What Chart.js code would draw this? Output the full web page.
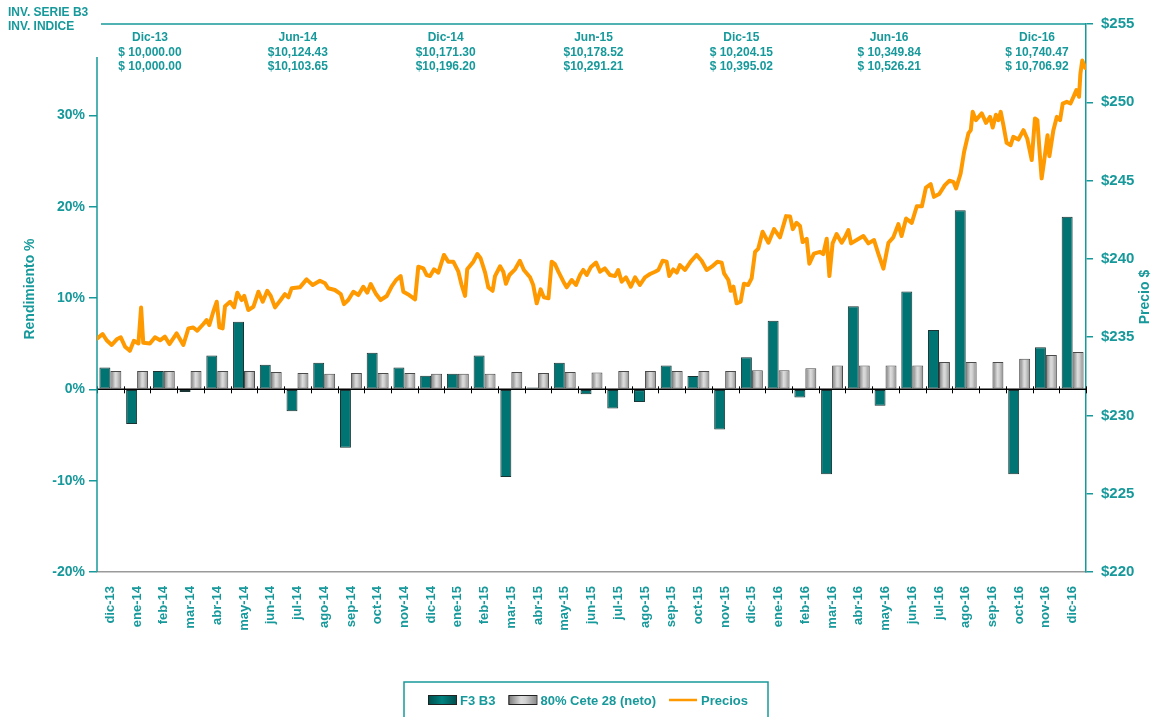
<!DOCTYPE html>
<html><head><meta charset="utf-8">
<script src="https://cdn.jsdelivr.net/npm/chart.js@4.4.1/dist/chart.umd.min.js"></script>
<style>html,body{margin:0;padding:0;background:#fff;}#wrap{position:relative;width:1156px;height:717px}#wrap canvas{position:absolute;left:0;top:0;display:block}#lineCanvas{pointer-events:none}</style>
</head><body>
<div id="wrap">
<canvas id="c" width="1156" height="717" style="width:1156px;height:717px"></canvas>
<canvas id="lineCanvas" width="1156" height="717" style="width:1156px;height:717px"></canvas>
</div>
<script>
// ---------------- DATA ----------------
const categories = ['dic-13','ene-14','feb-14','mar-14','abr-14','may-14','jun-14','jul-14','ago-14','sep-14','oct-14','nov-14',
  'dic-14','ene-15','feb-15','mar-15','abr-15','may-15','jun-15','jul-15','ago-15','sep-15','oct-15','nov-15',
  'dic-15','ene-16','feb-16','mar-16','abr-16','may-16','jun-16','jul-16','ago-16','sep-16','oct-16','nov-16','dic-16'];
const f3b3 = [2.4,-3.8,2.0,-0.3,3.7,7.4,2.7,-2.4,2.9,-6.4,4.0,2.4,
  1.5,1.7,3.7,-9.6,0.2,2.9,-0.55,-2.1,-1.4,2.6,1.45,-4.4,
  3.5,7.5,-0.9,-9.3,9.1,-1.8,10.7,6.5,19.6,0.1,-9.3,4.6,18.9];
const cete = [2.0,2.0,2.0,2.0,2.0,2.0,1.9,1.8,1.7,1.8,1.8,1.8,
  1.7,1.7,1.7,1.9,1.8,1.9,1.85,2.0,2.0,2.0,2.0,2.0,
  2.1,2.1,2.3,2.6,2.6,2.6,2.6,3.0,3.0,3.0,3.35,3.75,4.1];
// Price series: time in months since start of dic-13 (0..37) and price in $
const priceMonths = [0.01,0.21,0.36,0.55,0.74,0.89,1.05,1.23,1.38,1.55,1.65,1.73,1.98,2.17,2.36,2.54,2.71,2.98,3.23,3.42,3.60,3.75,3.98,4.10,4.20,4.35,4.48,4.58,4.70,4.79,4.98,5.13,5.25,5.41,5.51,5.66,5.85,6.04,6.20,6.37,6.50,6.66,6.87,7.03,7.16,7.28,7.59,7.84,8.07,8.34,8.53,8.65,8.90,9.12,9.24,9.40,9.59,9.78,9.96,10.11,10.24,10.44,10.61,10.84,11.02,11.19,11.36,11.46,11.68,11.90,12.02,12.21,12.33,
  12.46,12.61,12.77,12.98,13.14,13.33,13.52,13.64,13.77,13.85,14.08,14.23,14.35,14.52,14.64,14.80,14.89,15.08,15.20,15.30,15.43,15.64,15.82,15.97,16.20,16.32,16.45,16.60,16.72,16.89,17.01,17.13,17.26,17.45,17.57,17.76,17.92,18.07,18.19,18.32,18.47,18.67,18.82,19.00,19.19,19.38,19.50,19.63,19.79,19.97,20.13,20.31,20.50,20.69,20.88,21.00,21.16,21.31,21.41,21.56,21.69,21.81,22.00,22.21,22.43,22.62,22.81,23.00,23.21,23.37,23.46,23.62,23.71,23.81,23.93,24.08,24.20,24.36,24.49,
  24.62,24.74,24.90,25.12,25.33,25.55,25.78,25.93,26.03,26.17,26.30,26.40,26.55,26.65,26.82,27.05,27.17,27.30,27.40,27.52,27.67,27.86,27.98,28.11,28.21,28.42,28.67,28.86,29.07,29.23,29.42,29.61,29.79,29.98,30.10,30.27,30.48,30.67,30.86,31.01,31.19,31.31,31.51,31.72,31.89,32.04,32.14,32.31,32.44,32.60,32.69,32.76,32.88,33.10,33.26,33.41,33.51,33.63,33.72,33.81,33.91,34.03,34.18,34.28,34.47,34.66,34.80,34.97,35.09,35.18,35.26,35.34,35.43,35.56,35.63,35.78,35.91,36.03,36.13,36.28,36.42,36.56,36.64,36.74,36.79,36.86,36.97];
const priceValues = [234.92,235.2,234.8,234.5,234.86,234.99,234.39,234.13,234.77,234.6,236.9,234.64,234.6,234.99,234.8,235.03,234.56,235.24,234.5,235.56,235.62,235.41,235.84,236.09,235.77,236.62,237.26,235.62,235.56,236.98,237.26,236.9,237.84,237.37,237.63,236.73,236.94,237.9,237.26,237.96,237.63,236.9,237.37,237.75,237.54,238.12,238.18,238.69,238.33,238.6,238.44,238.12,238.01,237.75,237.11,237.37,237.9,237.69,238.22,237.84,238.39,237.75,237.37,237.63,238.22,238.65,238.9,237.9,237.69,237.41,239.5,239.39,238.97,
  238.9,239.33,239.12,240.25,239.82,239.82,239.18,238.33,237.63,239.33,239.82,240.31,240.04,239.12,238.18,237.96,238.9,239.53,239.18,238.41,238.97,239.33,239.88,239.29,238.82,238.33,237.16,238.05,237.54,237.48,239.82,239.67,239.18,238.54,238.18,238.65,238.33,238.97,239.29,238.97,239.46,239.76,239.18,239.39,238.97,238.9,239.29,238.54,238.82,238.22,238.82,238.33,238.82,239.03,239.18,239.29,239.88,239.82,238.9,239.33,239.12,239.6,239.29,239.82,240.25,239.88,239.29,239.5,239.82,239.76,239.07,238.65,237.96,238.22,237.16,237.26,238.41,238.33,238.75,
  240.45,240.66,241.73,241.03,241.9,241.37,242.73,242.7,241.9,242.3,242.1,241.07,241.28,239.69,240.33,240.45,240.3,241.28,238.9,240.99,241.58,241.03,241.37,241.84,240.99,241.2,241.46,240.99,241.2,240.33,239.37,241.03,241.37,242.22,241.46,242.58,242.3,243.36,243.36,244.55,244.77,243.96,244.14,244.71,244.99,244.92,244.5,245.46,246.84,248.01,248.22,249.39,248.86,249.29,248.69,249.07,248.39,249.2,248.86,249.39,248.54,247.41,247.26,247.79,247.62,248.22,247.69,246.31,248.97,248.86,246.94,245.14,246.2,247.9,246.56,248.22,249.07,248.86,249.92,250.03,249.92,250.46,250.78,250.35,251.82,252.67,252.2];
const seriesLabels = ['F3 B3', '80% Cete 28 (neto)', 'Precios'];
const headerLines = ['INV. SERIE B3', 'INV. INDICE'];
const annoDates = ['Dic-13','Jun-14','Dic-14','Jun-15','Dic-15','Jun-16','Dic-16'];
const annoSerie = ['$ 10,000.00','$10,124.43','$10,171.30','$10,178.52','$ 10,204.15','$ 10,349.84','$ 10,740.47'];
const annoIndice = ['$ 10,000.00','$10,103.65','$10,196.20','$10,291.21','$ 10,395.02','$ 10,526.21','$ 10,706.92'];
const leftTitle = 'Rendimiento %';
const rightTitle = 'Precio $';

// ---------------- STYLE ----------------
const TEAL = '#17999b';
const ORANGE = '#ff9900';
const FONT = '"Liberation Sans", Arial, Helvetica, sans-serif';
const CAT_PCT = 0.82;
const PAD = {left: 97, right: 70, top: 24, bottom: 145};

function grayGradient(ctx, x0, x1) {
  const g = ctx.createLinearGradient(x0, 0, x1, 0);
  g.addColorStop(0, '#777777');
  g.addColorStop(0.45, '#dcdcdc');
  g.addColorStop(0.6, '#d2d2d2');
  g.addColorStop(1, '#8c8c8c');
  return g;
}
function tealGradient(ctx, x0, x1) {
  const g = ctx.createLinearGradient(x0, 0, x1, 0);
  g.addColorStop(0, '#004d4b');
  g.addColorStop(0.5, '#008280');
  g.addColorStop(1, '#00504e');
  return g;
}
function grayFill(c) {
  const chart = c.chart, xs = chart.scales && chart.scales.x;
  if (c.type !== 'data' || !xs || !xs.width) return '#b0b0b0';
  const cw = xs.width / categories.length;
  const center = xs.getPixelForValue(c.dataIndex);
  return grayGradient(chart.ctx, center, center + cw * CAT_PCT / 2);
}

const decor = {
  id: 'decor',
  afterDatasetsDraw(chart) {
    const {ctx, chartArea: a, scales} = chart;
    const y0 = scales.y.getPixelForValue(0);
    ctx.save();
    ctx.strokeStyle = '#000';
    ctx.lineWidth = 1.5;
    ctx.beginPath(); ctx.moveTo(a.left, y0); ctx.lineTo(a.right, y0); ctx.stroke();
    ctx.lineWidth = 1;
    const cw = (a.right - a.left) / categories.length;
    for (let i = 0; i <= categories.length; i++) {
      const x = Math.round(a.left + i * cw) + 0.5;
      ctx.beginPath(); ctx.moveTo(x, y0 - 3); ctx.lineTo(x, y0 + 4); ctx.stroke();
    }
    ctx.restore();
  },
  afterDraw(chart) {
    const {ctx, chartArea: a} = chart;
    ctx.save();
    ctx.strokeStyle = TEAL; ctx.lineWidth = 1.5;
    ctx.beginPath(); ctx.moveTo(a.left, a.top + 33); ctx.lineTo(a.left, a.bottom); ctx.stroke();
    ctx.beginPath(); ctx.moveTo(a.left + 4, a.top); ctx.lineTo(a.right, a.top); ctx.stroke();
    ctx.fillStyle = TEAL;
    ctx.font = 'bold 12px ' + FONT;
    ctx.textAlign = 'left'; ctx.textBaseline = 'middle';
    headerLines.forEach((t, i) => ctx.fillText(t, 8, 13 + i * 14));
    ctx.textAlign = 'center';
    const x0 = a.left + 53, x1 = a.right - 49;
    annoDates.forEach((d, i) => {
      const x = x0 + i * (x1 - x0) / (annoDates.length - 1);
      ctx.fillText(d, x, a.top + 14);
      ctx.fillText(annoSerie[i], x, a.top + 28.5);
      ctx.fillText(annoIndice[i], x, a.top + 43);
    });
    ctx.font = 'bold 14px ' + FONT;
    ctx.save(); ctx.translate(30, 289); ctx.rotate(-Math.PI / 2); ctx.fillText(leftTitle, 0, 0); ctx.restore();
    ctx.save(); ctx.translate(1145, 297); ctx.rotate(-Math.PI / 2); ctx.fillText(rightTitle, 0, 0); ctx.restore();
    // legend
    ctx.font = 'bold 13px ' + FONT;
    const sw = 28, gapT = 4, gapI = 13;
    const widths = seriesLabels.map(t => ctx.measureText(t).width);
    let total = 0;
    seriesLabels.forEach((t, i) => { total += sw + gapT + widths[i] + (i < seriesLabels.length - 1 ? gapI : 0); });
    const bx0 = 404, bx1 = 768, by = 682;
    ctx.strokeStyle = TEAL; ctx.lineWidth = 1.5;
    ctx.strokeRect(bx0, by, bx1 - bx0, 50);
    let x = (bx0 + bx1) / 2 - total / 2 + 2;
    const ly = 700;
    seriesLabels.forEach((t, i) => {
      if (i === 2) {
        ctx.strokeStyle = ORANGE; ctx.lineWidth = 2.5;
        ctx.beginPath(); ctx.moveTo(x, ly); ctx.lineTo(x + sw, ly); ctx.stroke();
      } else {
        ctx.fillStyle = i === 0 ? tealGradient(ctx, x, x + sw) : grayGradient(ctx, x, x + sw);
        ctx.fillRect(x, ly - 4.5, sw, 9);
        ctx.strokeStyle = '#222'; ctx.lineWidth = 1;
        ctx.strokeRect(x + 0.5, ly - 4.5, sw, 9);
      }
      x += sw + gapT;
      ctx.fillStyle = TEAL; ctx.textAlign = 'left'; ctx.textBaseline = 'middle';
      ctx.fillText(t, x, ly + 1);
      x += widths[i] + gapI;
    });
    ctx.restore();
  }
};

// Bars chart (with both value axes)
new Chart(document.getElementById('c'), {
  type: 'bar',
  data: {
    labels: categories,
    datasets: [
      {label: seriesLabels[0], data: f3b3, yAxisID: 'y',
       backgroundColor: '#007472', borderColor: '#1a3333', borderWidth: 1, borderSkipped: false,
       categoryPercentage: CAT_PCT, barPercentage: 1},
      {label: seriesLabels[1], data: cete, yAxisID: 'y',
       backgroundColor: grayFill, borderColor: '#4a4a4a', borderWidth: 1, borderSkipped: false,
       categoryPercentage: CAT_PCT, barPercentage: 1}
    ]
  },
  options: {
    responsive: false, animation: false, devicePixelRatio: 1,
    layout: {padding: {top: PAD.top, left: 0, right: 0, bottom: 0}},
    plugins: {legend: {display: false}, tooltip: {enabled: false}},
    scales: {
      x: {
        type: 'category', position: 'bottom', offset: true,
        grid: {display: false},
        border: {display: true, color: '#9a9a9a', width: 1.5},
        ticks: {color: TEAL, font: {family: FONT, size: 13, weight: 'bold'}, minRotation: 90, maxRotation: 90, autoSkip: false, padding: 6},
        afterFit: s => { s.height = PAD.bottom; }
      },
      y: {
        position: 'left', min: -20, max: 40,
        ticks: {stepSize: 10, color: TEAL, font: {family: FONT, size: 14, weight: 'bold'}, padding: 4,
                callback: v => v === 40 ? '' : v + '%'},
        grid: {drawOnChartArea: false, drawTicks: true, tickLength: 8,
               color: c => (c.tick && c.tick.value === 40) ? 'rgba(0,0,0,0)' : TEAL, lineWidth: 1.5},
        border: {display: false},
        afterFit: s => { s.width = PAD.left; }
      },
      y2: {
        position: 'right', min: 220, max: 255,
        ticks: {stepSize: 5, color: TEAL, font: {family: FONT, size: 15, weight: 'bold'}, padding: 8,
                callback: v => '$' + v},
        grid: {drawOnChartArea: false, drawTicks: true, tickLength: 7, color: TEAL, lineWidth: 1.5},
        border: {display: true, color: TEAL, width: 1.5},
        afterFit: s => { s.width = PAD.right; }
      }
    }
  },
  plugins: [decor]
});

// Price line drawn on an overlay with the same plot area (time in months vs. price)
new Chart(document.getElementById('lineCanvas'), {
  type: 'line',
  data: {
    datasets: [{label: seriesLabels[2], data: priceMonths.map((m, i) => ({x: m, y: priceValues[i]})),
      borderColor: ORANGE, borderWidth: 4, pointRadius: 0, tension: 0,
      borderJoinStyle: 'round', borderCapStyle: 'round'}]
  },
  options: {
    responsive: false, animation: false, devicePixelRatio: 1,
    layout: {padding: PAD},
    plugins: {legend: {display: false}, tooltip: {enabled: false}},
    scales: {
      x: {type: 'linear', display: false, offset: false, min: 0, max: categories.length},
      y: {type: 'linear', display: false, min: 220, max: 255}
    }
  }
});
</script>
</body></html>
